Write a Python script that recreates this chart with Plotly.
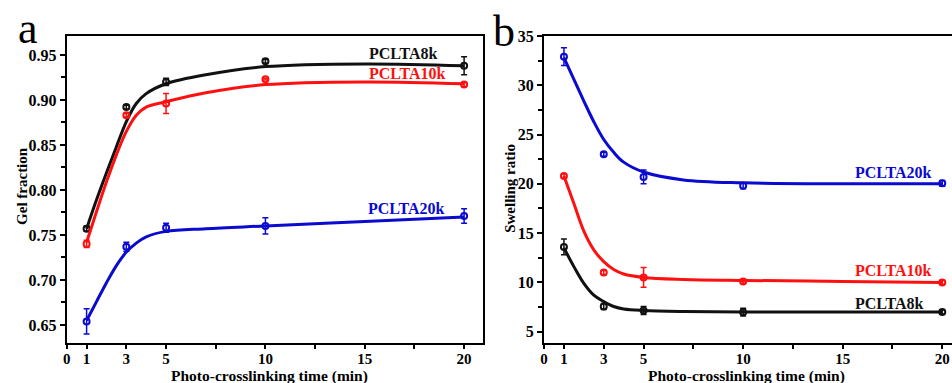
import plotly.graph_objects as go

# ---------------- data ----------------
x_time = [1, 3, 5, 10, 20]

# Panel a: gel fraction
gel_8k = [0.757, 0.892, 0.920, 0.943, 0.938]
gel_8k_err = [0.003, 0.002, 0.004, 0.002, 0.010]
gel_10k = [0.740, 0.883, 0.896, 0.923, 0.917]
gel_10k_err = [0.004, 0.002, 0.011, 0.001, 0.002]
gel_20k = [0.654, 0.737, 0.758, 0.760, 0.771]
gel_20k_err = [0.014, 0.005, 0.005, 0.009, 0.008]

# Panel a: fitted curves
fit_x = [1, 1.5, 2, 2.5, 3, 3.5, 4, 5, 7, 10, 15, 20]
fit_gel_8k = [0.757, 0.789, 0.819, 0.848, 0.876, 0.896, 0.907, 0.918, 0.928, 0.937, 0.940, 0.938]
fit_gel_10k = [0.742, 0.776, 0.809, 0.839, 0.865, 0.883, 0.892, 0.898, 0.908, 0.917, 0.920, 0.918]
fit_gel_20k = [0.655, 0.676, 0.697, 0.716, 0.731, 0.741, 0.748, 0.754, 0.757, 0.760, 0.765, 0.770]

# Panel b: swelling ratio
sw_8k = [13.6, 7.55, 7.15, 6.98, 7.0]
sw_8k_err = [0.8, 0.3, 0.4, 0.4, 0.2]
sw_10k = [20.8, 11.0, 10.5, 10.1, 10.0]
sw_10k_err = [0.2, 0.2, 1.0, 0.2, 0.2]
sw_20k = [32.9, 23.0, 20.7, 19.8, 20.05]
sw_20k_err = [0.9, 0.2, 0.7, 0.3, 0.3]

fit_sw_8k = [13.5, 11.6, 9.9, 8.7, 8.05, 7.55, 7.3, 7.15, 7.05, 7.0, 7.0, 7.0]
fit_sw_10k = [20.8, 18.0, 15.2, 13.3, 12.1, 11.3, 10.85, 10.5, 10.3, 10.2, 10.1, 10.0]
fit_sw_20k = [32.8, 30.6, 28.4, 26.3, 24.5, 23.2, 22.2, 21.2, 20.4, 20.1, 20.0, 20.0]

x_tickvals = [0, 1, 3, 5, 10, 15, 20]
x_ticktext = ["0", "1", "3", "5", "10", "15", "20"]

BLACK = "#111111"
RED = "#ff1010"
BLUE = "#0a0ad0"
FONT = "Liberation Serif"

fig = go.Figure()


def add_series(x, y, err, fx, fy, color, xa, ya):
    fig.add_trace(go.Scatter(
        x=fx, y=fy, mode="lines", line=dict(color=color, width=3, shape="spline", smoothing=1.0),
        xaxis=xa, yaxis=ya, showlegend=False, hoverinfo="skip"))
    fig.add_trace(go.Scatter(
        x=x, y=y, mode="markers",
        marker=dict(symbol="circle-open", size=6, color=color, line=dict(width=2, color=color)),
        error_y=dict(type="data", array=err, visible=True, color=color, thickness=1.5, width=3),
        xaxis=xa, yaxis=ya, showlegend=False))


add_series(x_time, gel_8k, gel_8k_err, fit_x, fit_gel_8k, BLACK, "x", "y")
add_series(x_time, gel_10k, gel_10k_err, fit_x, fit_gel_10k, RED, "x", "y")
add_series(x_time, gel_20k, gel_20k_err, fit_x, fit_gel_20k, BLUE, "x", "y")

add_series(x_time, sw_8k, sw_8k_err, fit_x, fit_sw_8k, BLACK, "x2", "y2")
add_series(x_time, sw_10k, sw_10k_err, fit_x, fit_sw_10k, RED, "x2", "y2")
add_series(x_time, sw_20k, sw_20k_err, fit_x, fit_sw_20k, BLUE, "x2", "y2")

W, H = 952, 383
TOP, BOT = 36, 343  # plot area in pixels


def py(p):
    """pixel row -> paper y (paper spans the plotting area)"""
    return (BOT - p) / (BOT - TOP)


tick_font = dict(family=FONT, size=16, color="black", weight="bold")
xtick_font = dict(family=FONT, size=15, color="black", weight="bold")
minor_style = dict(ticks="outside", ticklen=4, tickwidth=1.5, tickcolor="black")

common_x = dict(
    tickmode="array", tickvals=x_tickvals, ticktext=x_ticktext,
    ticks="outside", ticklen=4, tickwidth=1.5, tickcolor="black", ticklabelstandoff=-3,
    showline=True, linecolor="black", linewidth=2, showgrid=False, zeroline=False,
    tickfont=xtick_font,
    minor=dict(minor_style, tickmode="array", tickvals=[7.5, 12.5, 17.5]),
)
common_y = dict(
    ticks="outside", ticklen=5, tickwidth=1.5, tickcolor="black",
    showline=True, linecolor="black", linewidth=2, showgrid=False, zeroline=False,
    tickfont=tick_font,
)

fig.update_layout(
    width=W, height=H,
    margin=dict(l=0, r=0, t=TOP, b=H - BOT),
    paper_bgcolor="white", plot_bgcolor="white",
    font=dict(family=FONT, color="black"),
    xaxis=dict(common_x, domain=[63 / W, 481 / W], range=[0, 20.95], mirror=True, anchor="y"),
    yaxis=dict(common_y, range=[0.63, 0.971], tickvals=[0.65, 0.70, 0.75, 0.80, 0.85, 0.90, 0.95],
               ticktext=["0.65", "0.70", "0.75", "0.80", "0.85", "0.90", "0.95"], mirror=True,
               minor=dict(minor_style, tickmode="array",
                          tickvals=[0.675, 0.725, 0.775, 0.825, 0.875, 0.925]),
               anchor="x"),
    xaxis2=dict(common_x, domain=[542.3 / W, 1.0], range=[0, 20.49], mirror=True, anchor="y2"),
    yaxis2=dict(common_y, range=[3.85, 35], tickvals=[5, 10, 15, 20, 25, 30, 35], mirror=False,
                minor=dict(minor_style, tickmode="array",
                           tickvals=[7.5, 12.5, 17.5, 22.5, 27.5, 32.5]),
                anchor="x2"),
)

ann = []


def label(text, x, y, color, xref, yref):
    ann.append(dict(text="<b>%s</b>" % text, x=x, y=y, xref=xref, yref=yref, xanchor="left",
                    yanchor="middle", showarrow=False,
                    font=dict(family=FONT, size=16, color=color)))


label("PCLTA8k", 15.1, 0.952, BLACK, "x", "y")
label("PCLTA10k", 15.1, 0.929, RED, "x", "y")
label("PCLTA20k", 15.05, 0.7795, BLUE, "x", "y")
label("PCLTA20k", 15.5, 21.1, BLUE, "x2", "y2")
label("PCLTA10k", 15.5, 11.2, RED, "x2", "y2")
label("PCLTA8k", 15.5, 7.9, BLACK, "x2", "y2")

title_font = dict(family=FONT, size=15, color="black")
xtitle_font = dict(family=FONT, size=15.5, color="black")
ann.append(dict(text="<b>Gel fraction</b>", x=18 / W, y=py(186), xref="paper", yref="paper",
                textangle=-90, showarrow=False, xanchor="center", yanchor="middle",
                font=title_font))
ann.append(dict(text="<b>Swelling ratio</b>", x=508 / W, y=py(188), xref="paper", yref="paper",
                textangle=-90, showarrow=False, xanchor="center", yanchor="middle",
                font=title_font))
ann.append(dict(text="<b>Photo-crosslinking time (min)</b>", x=267 / W, y=py(375.5),
                xref="paper", yref="paper", showarrow=False, xanchor="center", yanchor="middle",
                font=xtitle_font))
ann.append(dict(text="<b>Photo-crosslinking time (min)</b>", x=746 / W, y=py(375.5),
                xref="paper", yref="paper", showarrow=False, xanchor="center", yanchor="middle",
                font=xtitle_font))
# panel letters
ann.append(dict(text="a", x=24 / W, y=py(29), xref="paper", yref="paper", showarrow=False,
                xanchor="center", yanchor="middle", font=dict(family=FONT, size=44, color="black")))
ann.append(dict(text="b", x=502 / W, y=py(31), xref="paper", yref="paper", showarrow=False,
                xanchor="center", yanchor="middle", font=dict(family=FONT, size=44, color="black")))

fig.update_layout(annotations=ann)
fig.write_html("out.html", config={"displayModeBar": False},
               post_script="document.body.style.margin='0';")
